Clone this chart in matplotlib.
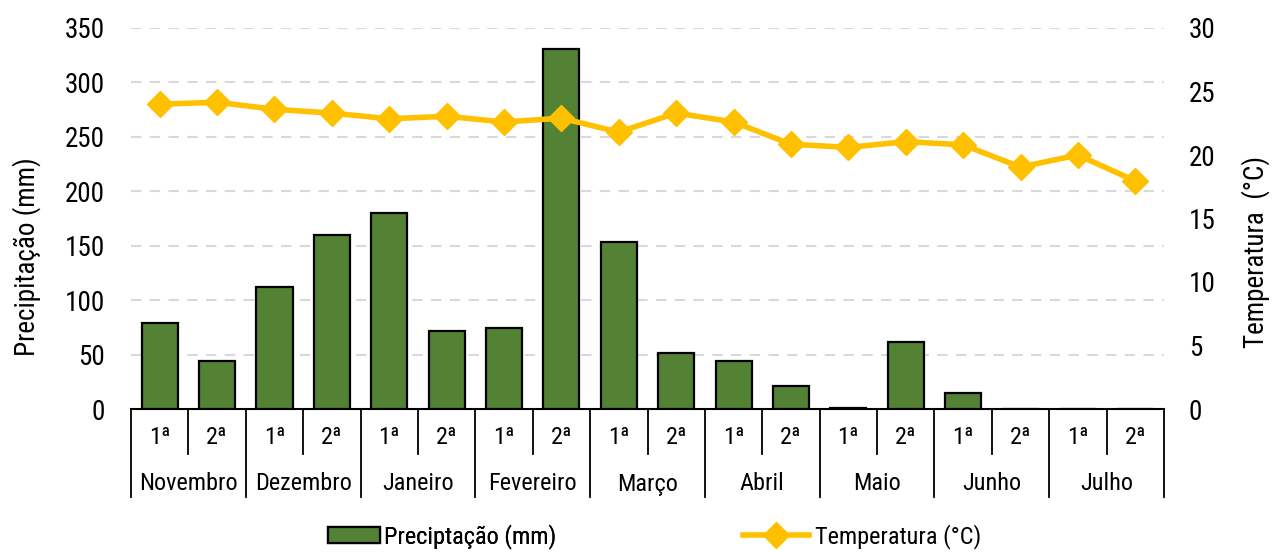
import matplotlib
matplotlib.use("Agg")
import matplotlib.pyplot as plt
from matplotlib.lines import Line2D
from matplotlib.patches import Patch
import matplotlib.transforms as mtransforms
import numpy as np

plt.rcParams['font.family'] = ['Roboto Condensed', 'PT Sans Narrow', 'DejaVu Sans']

months = ["Novembro", "Dezembro", "Janeiro", "Fevereiro", "Março", "Abril", "Maio", "Junho", "Julho"]
halves = ["1ª", "2ª"]
precip = [79, 44.5, 112.5, 159.5, 180, 72, 74.5, 330.5, 153, 51.5, 44, 21.5, 0.6, 62, 14.5, 0, 0, 0]
temp = [24.0, 24.15, 23.6, 23.3, 22.85, 23.05, 22.6, 22.9, 21.8, 23.3, 22.6, 20.85, 20.6, 21.05, 20.8, 19.05, 20.0, 17.95]

W, H = 1274, 552
fig = plt.figure(figsize=(W/100, H/100), dpi=100)
x0, x1, ytop, ybot = 131, 1164, 28, 409
pw, ph = x1 - x0, ybot - ytop
ax = fig.add_axes([x0/W, 1-ybot/H, pw/W, ph/H])
ax2 = ax.twinx()

n = len(precip)
x = np.arange(n)
FS = 19.5
FS2 = 17.5
green = "#548235"
yellow = "#FFC000"

ax.bar(x, precip, width=0.63, color=green, edgecolor="black", linewidth=1.6, zorder=3)
ax.set_xlim(-0.5, n-0.5)
ax.set_ylim(0, 350)
ax.set_yticks(np.arange(0, 351, 50))
for v in np.arange(50, 351, 50):
    ax.axhline(v, color="#d9d9d9", linestyle=(0, (5, 4)), linewidth=1.5, zorder=0)
ax2.plot(x, temp, color=yellow, linewidth=4, marker="D", markersize=13, zorder=4)
ax2.set_ylim(0, 30)
ax2.set_yticks(np.arange(0, 31, 5))

for a in (ax, ax2):
    for s in a.spines.values():
        s.set_visible(False)
    a.tick_params(length=0, labelsize=FS)
ax.spines['bottom'].set_visible(True)
ax.spines['bottom'].set_color("#000000")
ax.spines['bottom'].set_linewidth(1.5)
ax.tick_params(axis='y', pad=19)
ax2.tick_params(axis='y', pad=18)
ax.set_xticks([])

ax.set_ylabel("Precipitação (mm)", fontsize=FS)
ax2.set_ylabel("Temperatura  (°C)", fontsize=FS)
ax.yaxis.set_label_coords((41 - x0)/pw, (ybot - 257)/ph)
ax2.yaxis.set_label_coords((1241 - x0)/pw, (ybot - 252)/ph)

# category axis
trans = mtransforms.blended_transform_factory(ax.transData, ax.transAxes)
y_inner = -(454-ybot)/ph
y_outer = -(497-ybot)/ph
y_half_lbl = -(437-ybot)/ph
y_month_lbl = -(484-ybot)/ph
for i in range(n+1):
    xb = i - 0.5
    yb = y_outer if i % 2 == 0 else y_inner
    ax.plot([xb, xb], [0, yb], transform=trans, color="black", linewidth=1.3, clip_on=False)
for i in range(n):
    ax.text(i, y_half_lbl, halves[i % 2], transform=trans, ha="center", va="center", fontsize=FS2)
for j, m in enumerate(months):
    ax.text(2*j+0.5, y_month_lbl, m, transform=trans, ha="center", va="center", fontsize=FS2)

# legends
h1 = Patch(facecolor=green, edgecolor="black", linewidth=1.6)
h2 = Line2D([], [], color=yellow, linewidth=4, marker="D", markersize=13)
leg1 = fig.legend([h1], ["Preciptação (mm)"], loc="center left", bbox_to_anchor=(328/W, 1-537/H),
                  frameon=False, fontsize=FS2, handlelength=2.15, handleheight=0.65, handletextpad=0.15,
                  borderpad=0, borderaxespad=0)
leg2 = fig.legend([h2], ["Temperatura (°C)"], loc="center left", bbox_to_anchor=(743/W, 1-537/H),
                  frameon=False, fontsize=FS2, handlelength=2.7, handletextpad=0.25,
                  borderpad=0, borderaxespad=0)
fig.add_artist(leg1)

fig.savefig("out.png", dpi=100)
